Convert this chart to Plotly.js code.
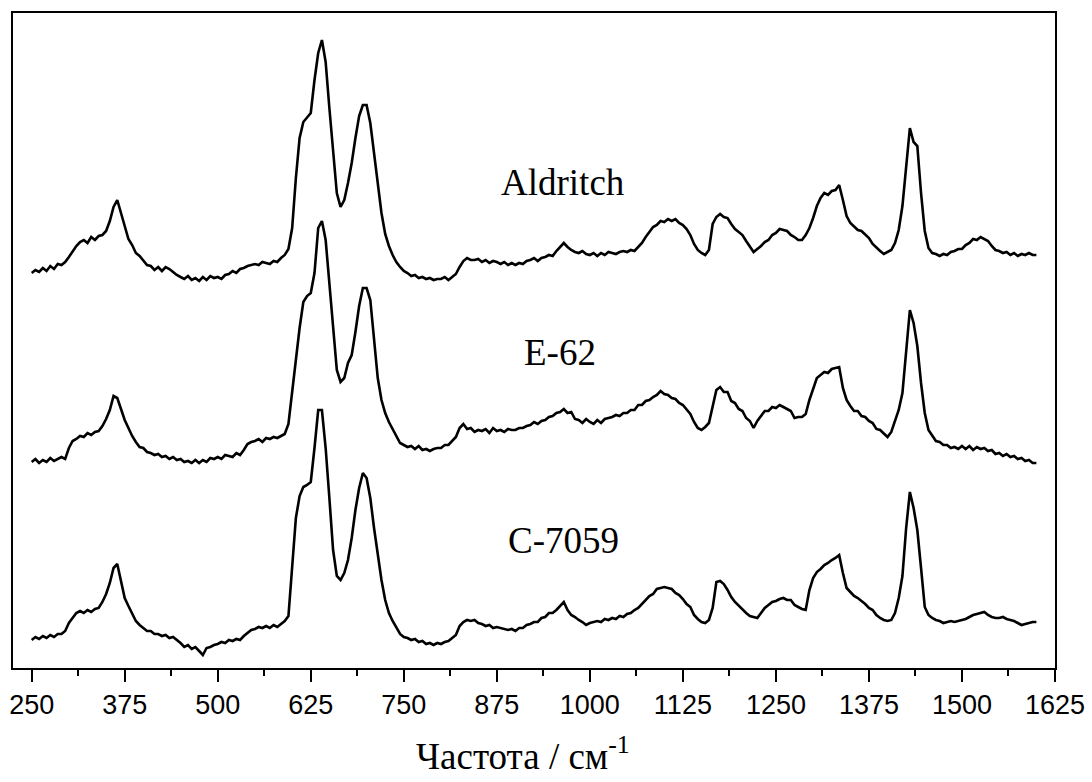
<!DOCTYPE html>
<html>
<head>
<meta charset="utf-8">
<script src="https://cdn.plot.ly/plotly-3.0.1.min.js"></script>
<style>html,body{margin:0;padding:0;background:#fff;}#chart{width:1092px;height:782px;}</style>
</head>
<body>
<div id="chart"></div>
<script>
// Raman shift grid: starts at 250 cm-1, step 5 cm-1 (used via x0/dx)
const shiftStart = 250;
const shiftStep = 5;

const seriesNames = ["Aldritch", "E-62", "C-7059"];

// Intensities (arbitrary units, vertically offset as in the figure)
const aldritch = [
 395,398,396,400,397,402,399,404,403,406,
 411,417,422,426,428,425,431,428,432,433,
 437,447,461,468,455,441,429,423,415,412,
 408,403,402,398,401,397,401,399,396,393,
 391,389,392,388,390,387,391,388,392,390,
 391,389,393,394,397,395,399,400,402,403,
 404,403,406,405,404,407,406,410,413,419,
 440,490,530,546,551,555,588,615,628,606,
 560,520,475,461,468,485,505,530,552,563,
 563,545,515,487,455,434,422,413,406,401,
 397,395,392,393,390,391,389,390,388,389,
 389,391,388,391,394,401,407,410,408,408,
 409,406,408,405,407,406,404,406,403,405,
 403,405,404,407,408,410,407,410,411,413,
 412,417,421,425,421,418,416,415,417,414,
 413,415,412,415,413,416,415,414,416,417,
 416,418,417,421,425,431,436,441,443,447,
 446,449,447,449,445,443,439,433,424,418,
 415,413,418,444,451,454,451,450,444,439,
 436,433,427,422,416,419,422,426,428,433,
 435,439,438,437,433,431,428,428,433,440,
 450,462,470,475,473,477,478,483,468,452,
 445,441,438,437,433,430,424,420,417,414,
 416,418,425,438,462,500,540,526,522,475,
 437,420,415,414,412,414,413,416,417,419,
 419,423,425,429,428,431,429,427,422,418,
 417,415,416,413,415,412,414,413,415,413,
 413
];

const e62 = [
 206,209,205,208,206,210,207,209,211,209,
 220,227,229,232,231,235,233,236,237,242,
 249,258,272,270,258,248,240,232,226,221,
 220,216,215,213,214,211,212,209,211,208,
 209,206,207,205,208,205,208,206,210,209,
 211,209,213,212,211,215,213,218,224,226,
 227,229,226,230,229,231,230,232,234,244,
 275,312,340,366,372,375,395,440,447,428,
 382,338,298,286,290,305,313,336,362,380,
 380,368,330,290,268,255,246,239,232,225,
 223,221,222,219,222,218,219,217,219,220,
 220,223,223,227,231,240,244,239,240,236,
 238,237,239,235,240,237,238,236,239,238,
 238,240,240,242,243,246,244,247,248,251,
 252,255,256,259,255,256,249,248,245,249,
 246,244,248,245,249,250,251,253,252,255,
 255,258,258,263,263,267,268,271,273,277,
 274,273,270,269,265,263,258,254,246,240,
 238,241,245,262,278,281,276,276,267,265,
 259,257,250,247,240,247,252,257,257,261,
 260,263,261,259,257,250,251,251,254,268,
 280,290,293,296,295,299,300,301,280,268,
 262,257,257,252,251,247,245,239,238,234,
 231,236,246,258,275,318,358,345,322,285,
 255,238,232,227,226,223,223,220,221,219,
 222,219,222,218,221,219,220,217,218,214,
 215,212,214,211,212,209,210,207,208,205,
 205
];

const c7059 = [
 28,31,29,32,30,33,31,34,34,37,
 45,50,55,57,55,58,56,59,60,66,
 74,85,100,104,88,70,62,54,47,43,
 40,37,37,34,34,32,33,30,31,28,
 25,21,23,19,21,17,13,20,21,23,
 24,26,25,28,27,29,28,32,35,38,
 39,41,40,42,40,43,41,44,47,52,
 100,150,172,181,183,186,220,258,258,220,
 170,118,92,88,95,108,130,158,180,195,
 190,170,140,113,88,68,55,47,40,34,
 31,30,28,29,26,27,24,25,23,25,
 24,26,27,30,33,42,46,48,47,48,
 45,44,42,43,40,41,40,39,38,39,
 37,40,40,43,44,46,46,50,51,55,
 55,58,62,66,58,53,51,48,46,43,
 45,46,47,46,49,48,50,49,52,51,
 54,55,58,60,64,67,72,74,79,80,
 81,80,79,75,73,69,64,61,53,49,
 46,45,48,60,86,87,84,78,71,66,
 62,58,55,52,51,50,55,60,63,66,
 67,69,70,68,68,63,61,59,58,78,
 90,96,99,103,105,108,110,113,95,80,
 76,72,70,67,64,60,58,53,50,48,
 47,48,55,70,92,140,176,160,138,100,
 61,53,50,48,47,45,46,47,46,47,
 48,49,51,53,54,55,56,53,51,50,
 50,51,49,48,47,45,43,44,45,46,
 46
];

// Label anchor positions (data units)
const labelX = [964, 960, 964];
const labelY = [486, 316, 128];

const xTickVals = [250, 375, 500, 625, 750, 875, 1000, 1125, 1250, 1375, 1500, 1625];
const xTitle = 'Частота / см<sup>-1</sup>';

const allSeries = [aldritch, e62, c7059];
const traces = allSeries.map((ys, i) => ({
  type: 'scatter', mode: 'lines', name: seriesNames[i],
  x0: shiftStart, dx: shiftStep, y: ys,
  line: {color: '#000', width: 2.6}, hoverinfo: 'skip'
}));

const serif = '"Liberation Serif", "Times New Roman", serif';
const annotations = seriesNames.map((n, i) => ({
  text: n, x: labelX[i], y: labelY[i], xref: 'x', yref: 'y',
  showarrow: false, xanchor: 'center', yanchor: 'middle',
  font: {family: serif, size: 37, color: '#000'}
}));
annotations.push({
  text: xTitle, xref: 'paper', yref: 'paper', x: 0.489, y: 0,
  xanchor: 'center', yanchor: 'top', yshift: -60, showarrow: false,
  font: {family: serif, size: 37, color: '#000'}
});

const layout = {
  width: 1092, height: 782,
  margin: {l: 13, r: 37, t: 13, b: 114},
  paper_bgcolor: '#fff', plot_bgcolor: '#fff',
  showlegend: false,
  xaxis: {
    range: [224.9, 1625], tickvals: xTickVals, ticktext: xTickVals.map(String),
    showline: true, mirror: true, linecolor: '#000', linewidth: 2,
    ticks: 'outside', ticklen: 12, tickwidth: 2, tickcolor: '#000',
    minor: {tickvals: xTickVals.slice(0, -1).map(v => v + 62.5), ticks: 'outside', ticklen: 6, tickwidth: 2, tickcolor: '#000', showgrid: false},
    showgrid: false, zeroline: false,
    tickfont: {family: '"Liberation Sans", Arial, sans-serif', size: 27, color: '#000'}
  },
  yaxis: {
    range: [0, 655], showline: true, mirror: true, linecolor: '#000', linewidth: 2,
    ticks: '', showticklabels: false, showgrid: false, zeroline: false
  },
  annotations: annotations
};

Plotly.newPlot('chart', traces, layout, {displayModeBar: false, staticPlot: true});
</script>
</body>
</html>
